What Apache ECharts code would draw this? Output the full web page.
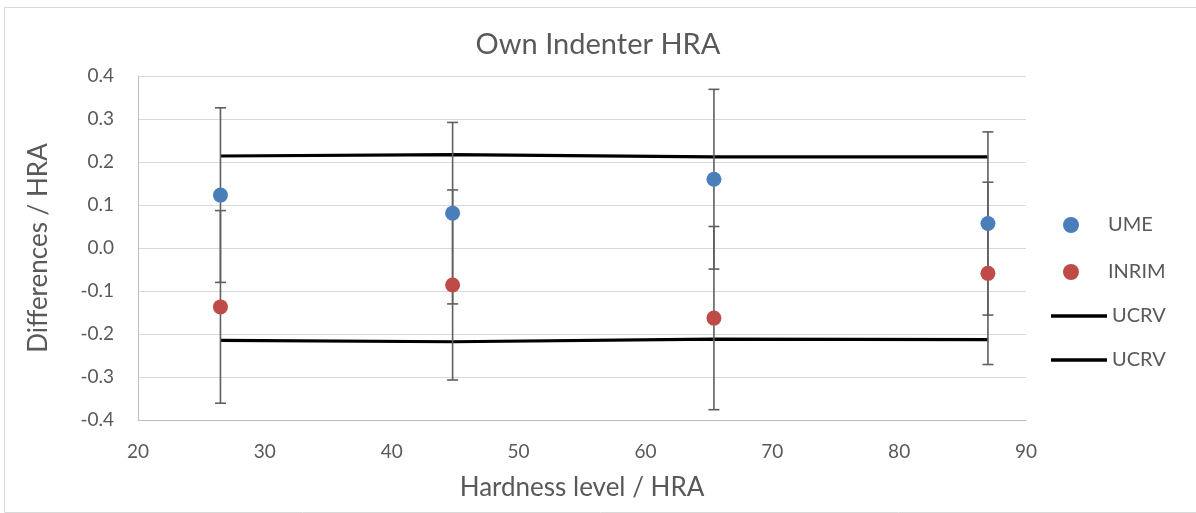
<!DOCTYPE html>
<html>
<head>
<meta charset="utf-8">
<script src="https://cdn.jsdelivr.net/npm/echarts@6/dist/echarts.min.js"></script>
<style>
html,body{margin:0;padding:0;background:#fff;}
#chart{width:1196px;height:513px;}
</style>
</head>
<body>
<div id="chart"></div>
<script>
const hardness = [26.5, 44.8, 65.4, 87.0];
const ume = [0.123, 0.081, 0.160, 0.057];
const umeErr = [0.203, 0.211, 0.209, 0.213];
const inrim = [-0.137, -0.086, -0.163, -0.059];
const inrimErr = [0.224, 0.221, 0.213, 0.212];
const ucrvUpper = [0.214, 0.217, 0.212, 0.212];
const ucrvLower = [-0.215, -0.218, -0.212, -0.213];
const yTicks = [-0.4, -0.3, -0.2, -0.1, 0.0, 0.1, 0.2, 0.3, 0.4];

const FONT = 'Lato';
const TXT = '#595959';

function errData(xs, ys, es) {
  return xs.map((x, i) => [x, ys[i] - es[i], ys[i] + es[i]]);
}
function errRender(params, api) {
  const x = api.value(0);
  const lo = api.coord([x, api.value(1)]);
  const hi = api.coord([x, api.value(2)]);
  const w = 5.5;
  const style = {stroke: '#5f5f5f', lineWidth: 1.6, fill: null};
  return {
    type: 'group',
    children: [
      {type: 'line', shape: {x1: lo[0], y1: lo[1], x2: hi[0], y2: hi[1]}, style},
      {type: 'line', shape: {x1: lo[0] - w, y1: lo[1], x2: lo[0] + w, y2: lo[1]}, style},
      {type: 'line', shape: {x1: hi[0] - w, y1: hi[1], x2: hi[0] + w, y2: hi[1]}, style}
    ]
  };
}
const pairs = (xs, ys) => xs.map((x, i) => [x, ys[i]]);

const chart = echarts.init(document.getElementById('chart'));
chart.setOption({
  animation: false,
  textStyle: {fontFamily: FONT},
  graphic: [{
    type: 'rect', left: 2, top: 5,
    shape: {width: 1192, height: 505},
    style: {fill: null, stroke: '#d9d9d9', lineWidth: 1}, z: -1
  }],
  title: {
    text: 'Own Indenter HRA', left: 593, top: 25, textAlign: 'center',
    textStyle: {fontFamily: FONT, fontSize: 29, fontWeight: 'normal', color: TXT}
  },
  grid: {left: 138, right: 170, top: 76, bottom: 93},
  xAxis: {
    type: 'value', min: 20, max: 90, interval: 10,
    name: 'Hardness level / HRA', nameLocation: 'middle', nameGap: 55,
    nameTextStyle: {fontFamily: FONT, fontSize: 26, color: TXT},
    axisLine: {show: true, onZero: false, lineStyle: {color: '#bfbfbf', width: 1}},
    axisTick: {show: false},
    splitLine: {show: false},
    axisLabel: {fontFamily: FONT, fontSize: 19, color: TXT, margin: 22}
  },
  yAxis: {
    type: 'value', min: -0.4, max: 0.4, interval: 0.1,
    name: 'Differences / HRA', nameLocation: 'middle', nameGap: 86,
    nameTextStyle: {fontFamily: FONT, fontSize: 26, color: TXT},
    axisLine: {show: true, lineStyle: {color: '#bfbfbf', width: 1}},
    axisTick: {show: false},
    splitLine: {lineStyle: {color: '#d9d9d9', width: 1}},
    axisLabel: {fontFamily: FONT, fontSize: 19, color: TXT, margin: 24,
      formatter: v => v.toFixed(1)}
  },
  legend: [{
    orient: 'vertical', left: 1058, top: 210, itemGap: 27,
    itemWidth: 16, itemHeight: 16,
    textStyle: {fontFamily: FONT, fontSize: 20, color: TXT, padding: [0, 0, 0, 24]},
    data: [{name: 'UME', icon: 'circle'}, {name: 'INRIM', icon: 'circle'}]
  }, {
    orient: 'vertical', left: 1046, top: 301, itemGap: 24,
    itemWidth: 56, itemHeight: 16,
    textStyle: {fontFamily: FONT, fontSize: 20, color: TXT, padding: [0, 0, 0, 0]},
    formatter: n => n.trim(),
    data: [{name: 'UCRV', icon: 'path://M0,6.5 L56,6.5 L56,9.8 L0,9.8 Z'}, {name: 'UCRV ', icon: 'path://M0,6.5 L56,6.5 L56,9.8 L0,9.8 Z'}]
  }],
  series: [
    {name: 'UCRV', type: 'line', data: pairs(hardness, ucrvUpper), symbol: 'none',
     lineStyle: {color: '#000', width: 3.2}, itemStyle: {color: '#000'}, z: 1},
    {name: 'UCRV ', type: 'line', data: pairs(hardness, ucrvLower), symbol: 'none',
     lineStyle: {color: '#000', width: 3.2}, itemStyle: {color: '#000'}, z: 1},
    {name: 'UMEerr', type: 'custom', renderItem: errRender, data: errData(hardness, ume, umeErr), z: 2,
     encode: {x: 0, y: [1, 2]}},
    {name: 'INRIMerr', type: 'custom', renderItem: errRender, data: errData(hardness, inrim, inrimErr), z: 2,
     encode: {x: 0, y: [1, 2]}},
    {name: 'UME', type: 'scatter', data: pairs(hardness, ume), symbolSize: 15,
     itemStyle: {color: '#4a7ebb', opacity: 1}, z: 3},
    {name: 'INRIM', type: 'scatter', data: pairs(hardness, inrim), symbolSize: 15,
     itemStyle: {color: '#be4b48', opacity: 1}, z: 3}
  ]
});
</script>
</body>
</html>
